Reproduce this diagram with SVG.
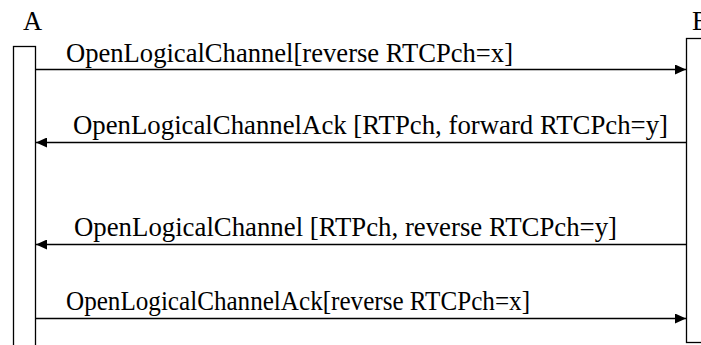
<svg xmlns="http://www.w3.org/2000/svg" width="701" height="345" viewBox="0 0 701 345">
<style>
  text { font-family: 'Liberation Serif', 'Times New Roman', serif; font-size: 26.5px; fill: #000; }
  .box { fill: #fff; stroke: #000; stroke-width: 1.3; }
  .msg { stroke: #000; stroke-width: 1.3; fill: none; }
</style>
<defs>
  <marker id="ah" markerWidth="12" markerHeight="10" refX="11" refY="5" orient="auto" markerUnits="userSpaceOnUse">
    <path d="M0,0 L11,5 L0,10 Z" fill="#000"/>
  </marker>
</defs>
<rect width="701" height="345" fill="#fff"/>
<g id="nodeA">
  <text x="23" y="30">A</text>
  <rect class="box" x="13.5" y="46.5" width="22" height="310"/>
</g>
<g id="nodeB">
  <text x="692" y="30">B</text>
  <rect class="box" x="686.5" y="38.5" width="30" height="304"/>
</g>
<g id="connectors">
  <line class="msg" x1="35.5" y1="69.5" x2="686" y2="69.5" marker-end="url(#ah)"/>
  <text x="66" y="62" textLength="447" lengthAdjust="spacingAndGlyphs">OpenLogicalChannel[reverse RTCPch=x]</text>
  <line class="msg" x1="686.5" y1="142.5" x2="36" y2="142.5" marker-end="url(#ah)"/>
  <text x="73" y="134" textLength="595" lengthAdjust="spacingAndGlyphs">OpenLogicalChannelAck [RTPch, forward RTCPch=y]</text>
  <line class="msg" x1="686.5" y1="244.5" x2="36" y2="244.5" marker-end="url(#ah)"/>
  <text x="74" y="236" textLength="543" lengthAdjust="spacingAndGlyphs">OpenLogicalChannel [RTPch, reverse RTCPch=y]</text>
  <line class="msg" x1="35.5" y1="318.5" x2="686" y2="318.5" marker-end="url(#ah)"/>
  <text x="66" y="310" textLength="464" lengthAdjust="spacingAndGlyphs">OpenLogicalChannelAck[reverse RTCPch=x]</text>
</g>
</svg>
